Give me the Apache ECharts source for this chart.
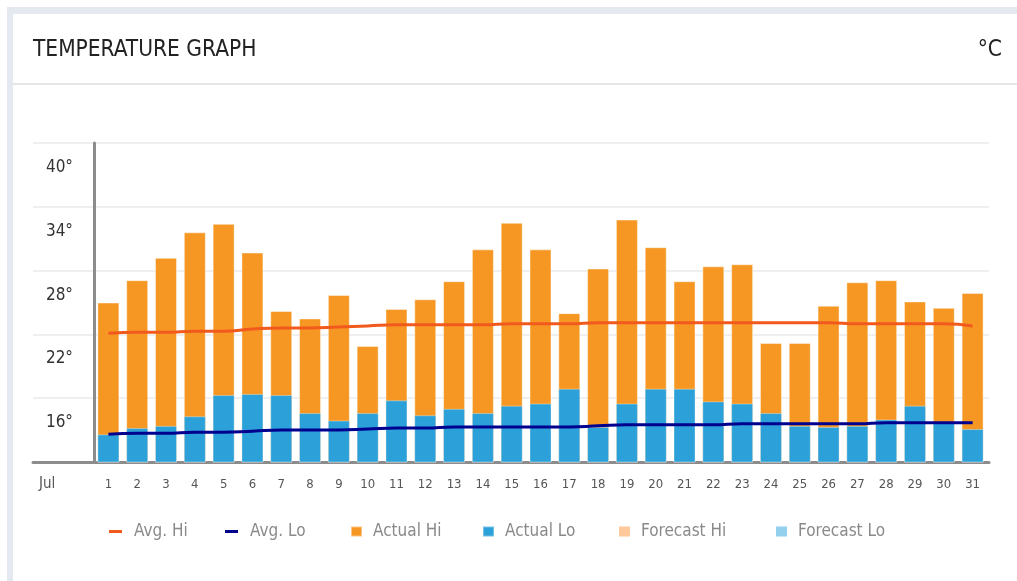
<!DOCTYPE html>
<html>
<head>
<meta charset="utf-8">
<title>Temperature Graph</title>
<script src="https://cdn.jsdelivr.net/npm/echarts@6/dist/echarts.min.js"></script>
<style>
  html, body { margin: 0; padding: 0; background: #fff; }
  #chart { width: 1017px; height: 581px; }
</style>
</head>
<body>
<div id="chart"></div>
<script>
// data (°C)
const days = ['1', '2', '3', '4', '5', '6', '7', '8', '9', '10', '11', '12', '13', '14', '15', '16',
  '17', '18', '19', '20', '21', '22', '23', '24', '25', '26', '27', '28', '29', '30', '31'];
const actualHi = [25.0, 27.1, 29.2, 31.6, 32.4, 29.7, 24.2, 23.5, 25.7, 20.9, 24.4, 25.3, 27.0, 30.0, 32.5, 30.0,
  24.0, 28.2, 32.8, 30.2, 27.0, 28.4, 28.6, 21.2, 21.2, 24.7, 26.9, 27.1, 25.1, 24.5, 25.9];
const actualLo = [12.6, 13.2, 13.4, 14.3, 16.3, 16.4, 16.3, 14.6, 13.9, 14.6, 15.8, 14.4, 15.0, 14.6, 15.3, 15.5,
  16.9, 13.3, 15.5, 16.9, 16.9, 15.7, 15.5, 14.6, 13.4, 13.3, 13.4, 14.0, 15.3, 13.8, 13.1];
const avgHi = [22.1, 22.2, 22.2, 22.3, 22.3, 22.5, 22.6, 22.6, 22.7, 22.8, 22.9, 22.9, 22.9, 22.9, 23.0, 23.0,
  23.0, 23.1, 23.1, 23.1, 23.1, 23.1, 23.1, 23.1, 23.1, 23.1, 23.0, 23.0, 23.0, 23.0, 22.8];
const avgLo = [12.6, 12.7, 12.7, 12.8, 12.8, 12.9, 13.0, 13.0, 13.0, 13.1, 13.2, 13.2, 13.3, 13.3, 13.3, 13.3,
  13.3, 13.4, 13.5, 13.5, 13.5, 13.5, 13.6, 13.6, 13.6, 13.6, 13.6, 13.7, 13.7, 13.7, 13.7];
const forecastHi = [];
const forecastLo = [];

const monthLabel = 'Jul';
const yMin = 10, yMax = 40, yStep = 6;

const FONT = "'Liberation Sans Narrow', 'DejaVu Sans Condensed', sans-serif";
const C = {
  avgHi: '#F15A1C',
  avgLo: '#00008F',
  actHi: '#F59722',
  actLo: '#2CA0D8',
  fcHi: '#FFC99B',
  fcLo: '#92D0EE'
};

// one small legend per item so each sits where the reference has it
const legendNames = ['Avg. Hi', 'Avg. Lo', 'Actual Hi', 'Actual Lo', 'Forecast Hi', 'Forecast Lo'];
const legendLeft = [109, 225, 350, 482, 619, 776];
const legends = legendNames.map((n, i) => {
  const isLine = i < 2;
  return {
    data: [n],
    left: legendLeft[i],
    top: 523,
    padding: 0,
    icon: 'rect',
    itemWidth: isLine ? 13 : 11,
    itemHeight: isLine ? 3 : 10,
    selectedMode: false,
    textStyle: {
      fontFamily: FONT,
      fontSize: 17,
      color: '#8a8a8a',
      padding: [0, 0, 0, isLine ? 7 : 6]
    }
  };
});

let myChart = echarts.init(document.getElementById('chart'));

myChart.setOption({
  animation: false,
  title: [{
    text: 'TEMPERATURE GRAPH',
    left: 28,
    top: 34,
    textStyle: { fontFamily: FONT, fontSize: 22.5, fontWeight: 'normal', color: '#222' }
  }, {
    text: '°C',
    right: 10,
    top: 34,
    textStyle: { fontFamily: FONT, fontSize: 22.5, fontWeight: 'normal', color: '#222' }
  }],
  graphic: [
    { type: 'rect', z: -10, shape: { x: 7, y: 7, width: 1010, height: 7 }, style: { fill: '#E4E9F0' } },
    { type: 'rect', z: -10, shape: { x: 7, y: 7, width: 6, height: 574 }, style: { fill: '#E4E9F0' } },
    { type: 'rect', z: -10, shape: { x: 13, y: 83, width: 1004, height: 2 }, style: { fill: '#E6E6E6' } },
    {
      type: 'text', left: 39, top: 477,
      style: { text: monthLabel, font: '15px ' + FONT, fill: '#555' }
    }
  ],
  legend: legends,
  grid: [
    // background grid: split lines + base line run out to the left edge
    { left: 33, right: 28, top: 143, bottom: 119 },
    // plot grid
    { left: 94, right: 30, top: 143, bottom: 119 }
  ],
  xAxis: [{
    gridIndex: 0,
    type: 'value',
    min: 0,
    max: 1,
    axisLine: { show: true, onZero: false, lineStyle: { color: '#8c8c8c', width: 3 } },
    axisTick: { show: false },
    axisLabel: { show: false },
    splitLine: { show: false }
  }, {
    gridIndex: 1,
    type: 'category',
    data: days,
    axisLine: { show: false },
    axisTick: { show: false },
    axisLabel: { fontFamily: FONT, fontSize: 13, color: '#555', margin: 16 }
  }],
  yAxis: [{
    gridIndex: 0,
    type: 'value',
    min: yMin,
    max: yMax,
    interval: yStep,
    axisLine: { show: false },
    axisTick: { show: false },
    axisLabel: { show: false },
    splitLine: { show: true, lineStyle: { color: '#efefef', width: 2 } }
  }, {
    gridIndex: 1,
    type: 'value',
    min: yMin,
    max: yMax,
    interval: yStep,
    axisLine: { show: true, lineStyle: { color: '#8c8c8c', width: 3 } },
    axisTick: { show: false },
    splitLine: { show: false },
    axisLabel: {
      fontFamily: FONT,
      fontSize: 17,
      color: '#333',
      margin: 21,
      verticalAlign: 'top',
      padding: [16, 0, 0, 0],
      formatter: (v) => v === yMin ? '' : v + '°'
    }
  }],
  series: [{
    name: 'Actual Hi',
    type: 'bar',
    xAxisIndex: 1,
    yAxisIndex: 1,
    barWidth: 22,
    barGap: '-100%',
    itemStyle: { color: C.actHi, borderColor: 'rgba(255,255,255,0.45)', borderWidth: 1 },
    data: actualHi
  }, {
    name: 'Actual Lo',
    type: 'bar',
    xAxisIndex: 1,
    yAxisIndex: 1,
    barWidth: 22,
    barGap: '-100%',
    itemStyle: { color: C.actLo, borderColor: 'rgba(255,255,255,0.35)', borderWidth: 1 },
    data: actualLo
  }, {
    name: 'Forecast Hi',
    type: 'bar',
    xAxisIndex: 0,
    yAxisIndex: 0,
    itemStyle: { color: C.fcHi },
    data: forecastHi
  }, {
    name: 'Forecast Lo',
    type: 'bar',
    xAxisIndex: 0,
    yAxisIndex: 0,
    itemStyle: { color: C.fcLo },
    data: forecastLo
  }, {
    name: 'Avg. Hi',
    type: 'line',
    xAxisIndex: 1,
    yAxisIndex: 1,
    smooth: true,
    symbol: 'none',
    z: 5,
    color: C.avgHi,
    itemStyle: { color: C.avgHi },
    lineStyle: { color: C.avgHi, width: 3 },
    data: avgHi
  }, {
    name: 'Avg. Lo',
    type: 'line',
    xAxisIndex: 1,
    yAxisIndex: 1,
    smooth: true,
    symbol: 'none',
    z: 5,
    color: C.avgLo,
    itemStyle: { color: C.avgLo },
    lineStyle: { color: C.avgLo, width: 3 },
    data: avgLo
  }]
});
window.onresize = myChart.resize;
</script>
</body>
</html>
